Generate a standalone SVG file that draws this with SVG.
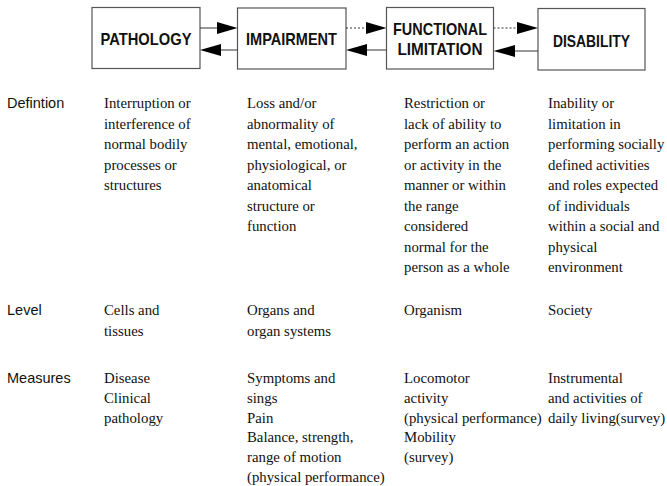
<svg xmlns="http://www.w3.org/2000/svg" width="667" height="486" viewBox="0 0 667 486">
<style>
.box{fill:#fff;stroke:#555;stroke-width:1.2}
.bt{font-family:"Liberation Sans",Arial,sans-serif;font-weight:bold;font-size:17px;fill:#111;text-anchor:middle}
.lab{font-family:"Liberation Sans",Arial,sans-serif;font-size:14.5px;fill:#111}
.tx{font-family:"Liberation Serif","Times New Roman",serif;font-size:14.8px;fill:#111}
.ln{stroke:#333;stroke-width:1;fill:none}
.dot{stroke:#333;stroke-width:1;fill:none;stroke-dasharray:2 2}
.hd{fill:#000}
</style>
<rect width="667" height="486" fill="#fff"/>
<g id="pathology"><rect class="box" x="92" y="7.5" width="108" height="61"/><text class="bt" x="146" y="45" textLength="91" lengthAdjust="spacingAndGlyphs">PATHOLOGY</text></g>
<g id="impairment"><rect class="box" x="237.5" y="8" width="108.5" height="61"/><text class="bt" x="291.5" y="45" textLength="91" lengthAdjust="spacingAndGlyphs">IMPAIRMENT</text></g>
<g id="functional-limitation"><rect class="box" x="386.5" y="7.5" width="107" height="61.5"/><text class="bt" x="440" y="35" textLength="94" lengthAdjust="spacingAndGlyphs">FUNCTIONAL</text><text class="bt" x="440" y="55" textLength="85" lengthAdjust="spacingAndGlyphs">LIMITATION</text></g>
<g id="disability"><rect class="box" x="538" y="8.5" width="107" height="61.5"/><text class="bt" x="591.5" y="47" textLength="77" lengthAdjust="spacingAndGlyphs">DISABILITY</text></g>
<g id="connectors">
<line class="ln" x1="200" y1="28" x2="218" y2="28"/><polygon class="hd" points="217,22 237.5,28 217,34"/>
<line class="ln" x1="220" y1="50" x2="237.5" y2="50"/><polygon class="hd" points="221,44 200,50 221,56"/>
<line class="dot" x1="346" y1="28" x2="367" y2="28"/><polygon class="hd" points="366,22 386.5,28 366,34"/>
<line class="ln" x1="366" y1="50" x2="386.5" y2="50"/><polygon class="hd" points="367,44 346,50 367,56"/>
<line class="dot" x1="493.5" y1="28" x2="518" y2="28"/><polygon class="hd" points="517,22 538,28 517,34"/>
<line class="ln" x1="514" y1="51" x2="538" y2="51"/><polygon class="hd" points="515,45 493.5,51 515,57"/>
</g>
<g id="row-labels">
<text class="lab" x="7" y="108">Defintion</text>
<text class="lab" x="7" y="315">Level</text>
<text class="lab" x="7" y="383">Measures</text>
</g>
<g id="col-pathology" class="tx">
<text x="104" y="108">Interruption or</text>
<text x="104" y="128.5">interference of</text>
<text x="104" y="149">normal bodily</text>
<text x="104" y="169.5">processes or</text>
<text x="104" y="190">structures</text>
<text x="104" y="315">Cells and</text>
<text x="104" y="335.5">tissues</text>
<text x="104" y="383">Disease</text>
<text x="104" y="402.8">Clinical</text>
<text x="104" y="422.6">pathology</text>
</g>
<g id="col-impairment" class="tx">
<text x="247" y="108">Loss and/or</text>
<text x="247" y="128.5">abnormality of</text>
<text x="247" y="149">mental, emotional,</text>
<text x="247" y="169.5">physiological, or</text>
<text x="247" y="190">anatomical</text>
<text x="247" y="210.5">structure or</text>
<text x="247" y="231">function</text>
<text x="247" y="315">Organs and</text>
<text x="247" y="335.5">organ systems</text>
<text x="247" y="383">Symptoms and</text>
<text x="247" y="402.8">sings</text>
<text x="247" y="422.6">Pain</text>
<text x="247" y="442.4">Balance, strength,</text>
<text x="247" y="462.2">range of motion</text>
<text x="247" y="482">(physical performance)</text>
</g>
<g id="col-functional" class="tx">
<text x="404" y="108">Restriction or</text>
<text x="404" y="128.5">lack of ability to</text>
<text x="404" y="149">perform an action</text>
<text x="404" y="169.5">or activity in the</text>
<text x="404" y="190">manner or within</text>
<text x="404" y="210.5">the range</text>
<text x="404" y="231">considered</text>
<text x="404" y="251.5">normal for the</text>
<text x="404" y="272">person as a whole</text>
<text x="404" y="315">Organism</text>
<text x="404" y="383">Locomotor</text>
<text x="404" y="402.8">activity</text>
<text x="404" y="422.6">(physical performance)</text>
<text x="404" y="442.4">Mobility</text>
<text x="404" y="462.2">(survey)</text>
</g>
<g id="col-disability" class="tx">
<text x="548" y="108">Inability or</text>
<text x="548" y="128.5">limitation in</text>
<text x="548" y="149">performing socially</text>
<text x="548" y="169.5">defined activities</text>
<text x="548" y="190">and roles expected</text>
<text x="548" y="210.5">of individuals</text>
<text x="548" y="231">within a social and</text>
<text x="548" y="251.5">physical</text>
<text x="548" y="272">environment</text>
<text x="548" y="315">Society</text>
<text x="548" y="383">Instrumental</text>
<text x="548" y="402.8">and activities of</text>
<text x="548" y="422.6">daily living(survey)</text>
</g>
</svg>
